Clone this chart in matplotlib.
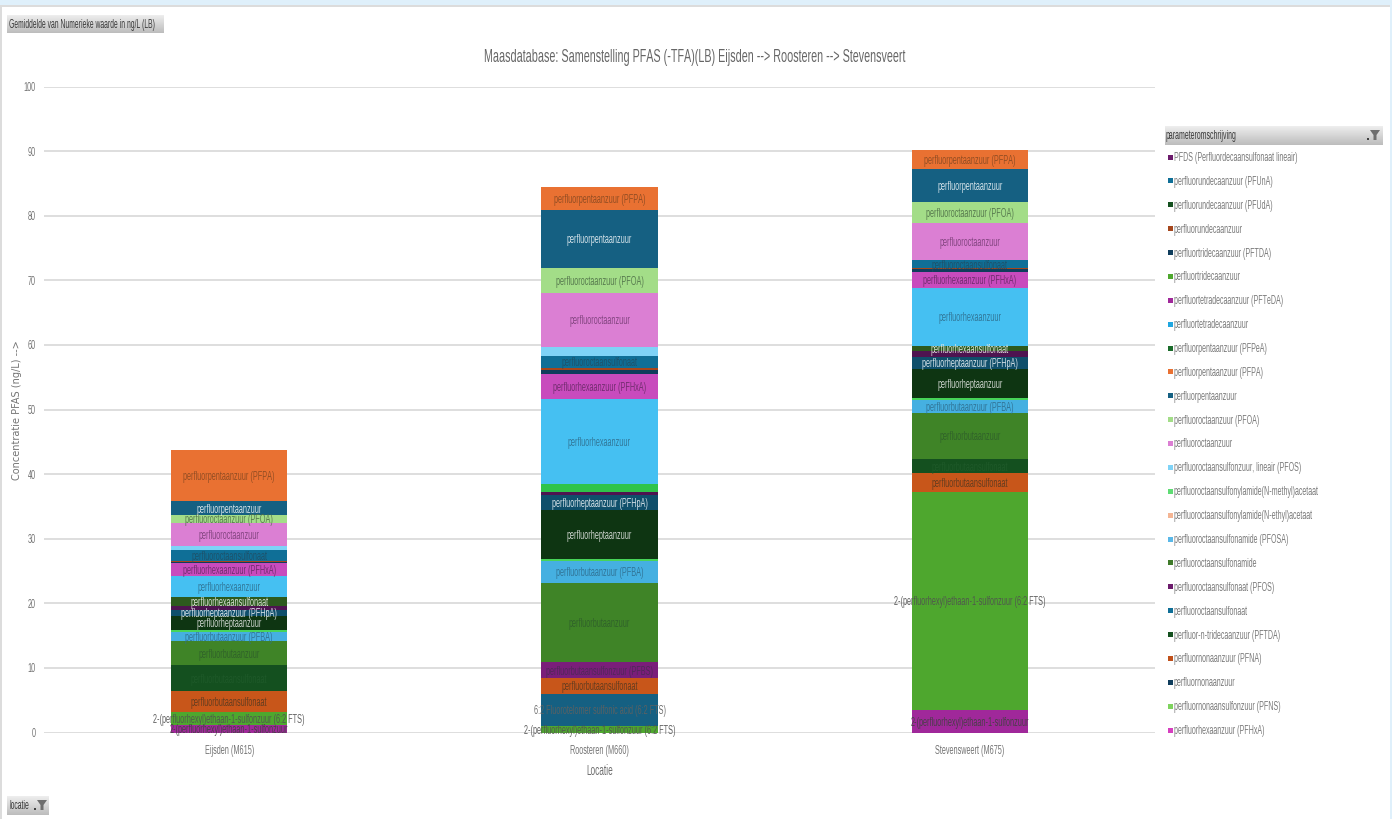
import os
import tempfile
import numpy as np
import matplotlib
matplotlib.use("Agg")
import matplotlib.pyplot as plt
from matplotlib import font_manager
from matplotlib.patches import Rectangle, Polygon
from fontTools.ttLib import TTFont

W, H = 1392, 819


def make_narrow_font(family, squeeze, new_family):
    # no condensed face is installed, so build one from a regular face
    path = font_manager.findfont(family)
    font = TTFont(path)
    for tag in ["fpgm", "prep", "cvt ", "kern", "GPOS", "GSUB", "hdmx", "VDMX", "LTSH"]:
        if tag in font:
            del font[tag]
    glyf = font["glyf"]
    for name in font.getGlyphOrder():
        g = glyf[name]
        if g.isComposite():
            for comp in g.components:
                comp.x = int(comp.x * squeeze)
        elif g.numberOfContours > 0:
            g.coordinates.scale((squeeze, 1))
            g.program.fromBytecode(b"")
        g.recalcBounds(glyf)
        adv, lsb = font["hmtx"].metrics[name]
        font["hmtx"].metrics[name] = (int(adv * squeeze), int(lsb * squeeze))
    for rec in font["name"].names:
        if rec.nameID in (1, 4, 16):
            rec.string = new_family
    out = os.path.join(tempfile.mkdtemp(), "narrow.ttf")
    font.save(out)
    font_manager.fontManager.addfont(out)


make_narrow_font("Liberation Sans", 0.55, "Narrowed Sans")
plt.rcParams['font.family'] = ['Narrowed Sans', 'Liberation Sans', 'DejaVu Sans']

locations = ["Eijsden (M615)", "Roosteren (M660)", "Stevensweert (M675)"]

# stack order, bottom to top
series_labels = [
    "2-(perfluorhexyl)ethaan-1-sulfonzuur",
    "2-(perfluorhexyl)ethaan-1-sulfonzuur (6:2 FTS)",
    "6:2 Fluorotelomer sulfonic acid (6:2 FTS)",
    "perfluorbutaansulfonaat",
    "perfluorbutaansulfonaat",
    "perfluorbutaansulfonzuur (PFBS)",
    "perfluorbutaanzuur",
    "perfluorbutaanzuur (PFBA)",
    "",
    "perfluorheptaanzuur",
    "perfluorheptaanzuur (PFHpA)",
    "",
    "perfluorhexaansulfonaat",
    "",
    "perfluorhexaanzuur",
    "perfluorhexaanzuur (PFHxA)",
    "",
    "",
    "perfluoroctaansulfonaat",
    "",
    "perfluoroctaanzuur",
    "perfluoroctaanzuur (PFOA)",
    "perfluorpentaanzuur",
    "perfluorpentaanzuur (PFPA)",
]
eijsden = [1.1, 2.0, 0, 3.3, 4.0, 0, 3.7, 1.4, 0.4, 2.1, 1.0, 0.6, 1.3, 0, 3.4, 1.9, 0.2, 0.2, 1.6, 0.7, 3.6, 1.1, 2.2, 7.9]
roosteren = [0, 1.0, 5.0, 2.4, 0, 2.5, 12.3, 3.4, 0.2, 7.7, 2.2, 0.6, 0, 1.2, 13.1, 3.9, 0.6, 0.4, 1.8, 1.4, 8.4, 3.8, 9.0, 3.5]
stevensweert = [3.5, 33.7, 0, 2.9, 2.2, 0, 7.2, 1.9, 0.4, 4.5, 1.9, 0.9, 0.8, 0, 8.9, 2.5, 0.4, 0.2, 1.2, 0.1, 5.6, 3.3, 5.2, 2.8]

series_colors = [
    "#a0289a", "#4ea72e", "#156082", "#c8561a", "#14501f", "#7a1e7a",
    "#3f8427", "#45b0e1", "#47d459", "#0e3512", "#0f4f6b", "#4e1450",
    "#2d5a1e", "#2fc44a", "#45c0f2", "#c84bbd", "#0f3d5c", "#a5461c",
    "#0f6f97", "#7fd3f7", "#db7fd3", "#a3dd88", "#156082", "#e97132",
]
text_colors = [
    "#404040", "#505050", "#606060", "#5a3a20", "#1f5a2a", "#4a2a55",
    "#2f5f2a", "#2f6f90", "#404040", "#e0e4e0", "#e8f0f4", "#404040",
    "#e8ece4", "#404040", "#2f7090", "#6a2a68", "#404040", "#404040",
    "#1f4f66", "#404040", "#7a3f78", "#4f7048", "#e8f0f4", "#8a4a22",
]

legend_labels = [
    "PFDS (Perfluordecaansulfonaat lineair)",
    "perfluorundecaanzuur (PFUnA)",
    "perfluorundecaanzuur (PFUdA)",
    "perfluorundecaanzuur",
    "perfluortridecaanzuur (PFTDA)",
    "perfluortridecaanzuur",
    "perfluortetradecaanzuur (PFTeDA)",
    "perfluortetradecaanzuur",
    "perfluorpentaanzuur (PFPeA)",
    "perfluorpentaanzuur (PFPA)",
    "perfluorpentaanzuur",
    "perfluoroctaanzuur (PFOA)",
    "perfluoroctaanzuur",
    "perfluoroctaansulfonzuur, lineair (PFOS)",
    "perfluoroctaansulfonylamide(N-methyl)acetaat",
    "perfluoroctaansulfonylamide(N-ethyl)acetaat",
    "perfluoroctaansulfonamide (PFOSA)",
    "perfluoroctaansulfonamide",
    "perfluoroctaansulfonaat (PFOS)",
    "perfluoroctaansulfonaat",
    "perfluor-n-tridecaanzuur (PFTDA)",
    "perfluornonaanzuur (PFNA)",
    "perfluornonaanzuur",
    "perfluornonaansulfonzuur (PFNS)",
    "perfluorhexaanzuur (PFHxA)",
]
legend_colors = [
    "#6b1a6b", "#0f6f97", "#14501f", "#a5461c", "#0f3d5c", "#4ea72e", "#a0289a",
    "#1fa6e0", "#1a6b2a", "#e97132", "#156082", "#a3dd88", "#db7fd3", "#7fd3f7",
    "#5fdc74", "#f4b594", "#5ab8e8", "#3f7a2a", "#6b1a6b", "#0f6f97", "#14501f",
    "#c0501a", "#0f3d5c", "#7fd35f", "#d63fbf",
]

fig = plt.figure(figsize=(W / 100, H / 100), dpi=100, facecolor="white")

# plot area
ax = fig.add_axes([44 / W, 1 - 732.5 / H, 1111 / W, 646 / H])
ax.set_xlim(-0.5, 2.5)
ax.set_ylim(0, 100)
ax.set_yticks(np.arange(0, 101, 10))
ax.set_xticks(range(3))
ax.set_xticklabels(locations)
ax.tick_params(axis="both", length=0, labelsize=9.5, labelcolor="#747474")
ax.tick_params(axis="x", pad=9)
ax.tick_params(axis="y", pad=6)
for spine in ax.spines.values():
    spine.set_visible(False)
ax.grid(axis="y", color="#dedede", linewidth=1.4)
ax.set_axisbelow(True)
ax.set_xlabel("Locatie", fontsize=10.8, color="#6e6e6e", labelpad=5)

# stacked bars
bottom = np.zeros(3)
for i, label in enumerate(series_labels):
    vals = np.array([eijsden[i], roosteren[i], stevensweert[i]])
    ax.bar(range(3), vals, width=0.3135, bottom=bottom, color=series_colors[i], linewidth=0, zorder=2)
    if label:
        for j in range(3):
            if vals[j] > 0:
                ax.annotate(label, (j, bottom[j] + vals[j] / 2), xytext=(0, -1), textcoords="offset points",
                            ha="center", va="center", fontsize=9.5,
                            color=text_colors[i], alpha=0.9, zorder=5)
    bottom = bottom + vals

# window furniture in pixel coordinates
ov = fig.add_axes([0, 0, 1, 1], zorder=10)
ov.axis("off")
ov.patch.set_alpha(0)

ov.add_patch(Rectangle((0, 0), W, 5, color="#dff0fb", linewidth=0))
ov.add_patch(Rectangle((0, 5), W, 1.5, color="#dcdcdc", linewidth=0))
ov.add_patch(Rectangle((0, 5), 1.5, H - 5, color="#dcdcdc", linewidth=0))
ov.add_patch(Rectangle((1389.5, 5), 2.5, H - 5, color="#dff0fb", linewidth=0))


def button(x0, y0, x1, y1):
    grad = np.linspace(0.93, 0.74, 32).reshape(-1, 1)
    ov.imshow(grad, extent=(x0, x1, y1, y0), cmap="gray", vmin=0, vmax=1, aspect="auto", zorder=1)


def funnel(x, y):
    ov.add_patch(Polygon([(x - 5, y - 5), (x + 5, y - 5), (x + 1.5, y), (x + 1.5, y + 5), (x - 1.5, y + 5), (x - 1.5, y)],
                         closed=True, color="#6e6e6e", linewidth=0, zorder=2))
    ov.add_patch(Rectangle((x - 8, y + 3), 1.5, 1.5, color="#404040", linewidth=0, zorder=2))


button(7, 15, 164, 33)
ov.text(9, 25, "Gemiddelde van Numerieke waarde in ng/L (LB)", fontsize=8.9, color="#3a3a3a", va="center", zorder=3)
button(7, 796, 49, 815)
ov.text(9, 806, "locatie", fontsize=9, color="#3a3a3a", va="center", zorder=3)
funnel(42, 805)
button(1165, 126, 1383, 145)
ov.text(1166, 136, "parameteromschrijving", fontsize=9.1, color="#3a3a3a", va="center", zorder=3)
funnel(1375, 135)
ov.set_xlim(0, W)
ov.set_ylim(H, 0)

ov.text(695, 58, "Maasdatabase: Samenstelling PFAS (-TFA)(LB) Eijsden --> Roosteren --> Stevensveert",
        fontsize=14, color="#666666", ha="center", va="center")
ov.text(17, 410, "Concentratie PFAS (ng/L) -->", fontsize=7, color="#747474", rotation=90,
        ha="center", va="center", family=["DejaVu Sans"])

# legend list
for i, label in enumerate(legend_labels):
    y = 157 + i * 23.875
    ov.add_patch(Rectangle((1168, y - 2.5), 4.5, 5, color=legend_colors[i], linewidth=0))
    ov.text(1174, y + 1, label, fontsize=9.3, color="#7a7a7a", va="center")

fig.savefig("out.png", dpi=100, facecolor="white")
